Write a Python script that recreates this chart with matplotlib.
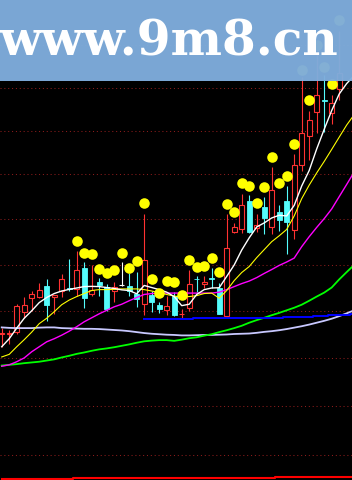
import matplotlib
matplotlib.use("Agg")
import matplotlib.pyplot as plt
from matplotlib.patches import Rectangle

# K-line data
opens = [10.502, 10.500, 10.511, 10.593, 10.655, 10.658, 10.707, 10.658, 10.684, 10.699,
         10.693, 10.783, 10.673, 10.726, 10.703, 10.684, 10.713, 10.707, 10.670, 10.630,
         10.667, 10.626, 10.603, 10.665, 10.585, 10.614, 10.739, 10.716, 10.740, 10.700,
         10.579, 10.943, 10.957, 11.082, 10.962, 11.056, 10.967, 11.033, 11.082, 10.951,
         11.244, 11.377, 11.488, 11.542, 11.482, 11.594]
highs = [10.528, 10.519, 10.630, 10.658, 10.683, 10.719, 10.735, 10.669, 10.757, 10.826,
         10.861, 10.809, 10.796, 10.740, 10.717, 10.726, 10.809, 10.761, 10.767, 11.024,
         10.687, 10.636, 10.665, 10.680, 10.609, 10.774, 10.752, 10.748, 10.783, 10.719,
         11.023, 10.984, 11.114, 11.109, 11.024, 11.100, 11.233, 11.064, 11.150, 11.291,
         11.650, 11.493, 11.760, 11.660, 11.567, 11.870]
lows = [10.447, 10.460, 10.502, 10.571, 10.600, 10.655, 10.557, 10.585, 10.658, 10.687,
        10.665, 10.610, 10.665, 10.665, 10.600, 10.636, 10.707, 10.665, 10.617, 10.581,
        10.593, 10.589, 10.583, 10.579, 10.570, 10.597, 10.680, 10.696, 10.696, 10.586,
        10.578, 10.940, 10.939, 10.940, 10.943, 10.936, 10.933, 10.948, 10.848, 10.912,
        11.218, 11.268, 11.388, 11.392, 11.431, 11.540]
closes = [10.506, 10.506, 10.622, 10.625, 10.673, 10.691, 10.623, 10.668, 10.735, 10.694,
          10.777, 10.653, 10.688, 10.713, 10.609, 10.701, 10.713, 10.683, 10.651, 10.820,
          10.636, 10.607, 10.622, 10.583, 10.587, 10.717, 10.737, 10.726, 10.737, 10.587,
          10.873, 10.967, 11.064, 10.943, 10.974, 11.006, 11.130, 10.994, 10.988, 11.244,
          11.390, 11.450, 11.566, 11.537, 11.529, 11.671]

# moving average lines (run two slots past the last visible candle)
ma5 = [10.447, 10.481, 10.526, 10.568, 10.600, 10.635, 10.657, 10.674, 10.685, 10.692,
       10.698, 10.704, 10.705, 10.704, 10.700, 10.696, 10.690, 10.687, 10.673, 10.709,
       10.700, 10.691, 10.680, 10.661, 10.622, 10.628, 10.670, 10.691, 10.698, 10.699,
       10.748, 10.798, 10.863, 10.917, 10.965, 10.983, 11.005, 11.017, 11.014, 11.061,
       11.148, 11.218, 11.316, 11.406, 11.493, 11.570, 11.619, 11.657]
ma10 = [10.404, 10.415, 10.447, 10.477, 10.509, 10.545, 10.568, 10.596, 10.626, 10.646,
        10.661, 10.674, 10.687, 10.691, 10.691, 10.692, 10.694, 10.694, 10.694, 10.691,
        10.685, 10.678, 10.670, 10.663, 10.659, 10.661, 10.665, 10.674, 10.676, 10.654,
        10.687, 10.730, 10.765, 10.791, 10.830, 10.865, 10.900, 10.926, 10.954, 11.014,
        11.091, 11.152, 11.207, 11.259, 11.314, 11.370, 11.426, 11.474]
ma20 = [10.365, 10.371, 10.384, 10.400, 10.426, 10.447, 10.468, 10.481, 10.496, 10.513,
        10.532, 10.553, 10.570, 10.587, 10.602, 10.617, 10.628, 10.643, 10.657, 10.670,
        10.674, 10.676, 10.676, 10.676, 10.676, 10.676, 10.676, 10.676, 10.676, 10.680,
        10.691, 10.704, 10.717, 10.728, 10.743, 10.761, 10.778, 10.796, 10.811, 10.828,
        10.878, 10.922, 10.963, 11.002, 11.045, 11.100, 11.155, 11.211]
ma60 = [10.368, 10.371, 10.374, 10.378, 10.381, 10.384, 10.389, 10.394, 10.402, 10.409,
        10.417, 10.423, 10.430, 10.436, 10.440, 10.445, 10.451, 10.457, 10.464, 10.470,
        10.473, 10.475, 10.475, 10.472, 10.477, 10.483, 10.487, 10.494, 10.500, 10.509,
        10.517, 10.526, 10.536, 10.549, 10.560, 10.570, 10.581, 10.591, 10.602, 10.613,
        10.626, 10.643, 10.661, 10.678, 10.700, 10.735, 10.767, 10.798]
ma120 = [10.529, 10.527, 10.526, 10.526, 10.526, 10.528, 10.529, 10.529, 10.526, 10.525,
         10.524, 10.523, 10.523, 10.522, 10.520, 10.518, 10.516, 10.513, 10.509, 10.505,
         10.502, 10.500, 10.498, 10.497, 10.495, 10.495, 10.496, 10.497, 10.497, 10.498,
         10.499, 10.501, 10.502, 10.503, 10.506, 10.510, 10.513, 10.517, 10.522, 10.528,
         10.534, 10.541, 10.549, 10.557, 10.566, 10.577, 10.589, 10.602]

# blue support line, starts at candle index 19
support_start = 19
support = [10.565] * 7 + [10.569] * 8 + [10.571] * 4 + [10.574] * 4 + \
          [10.579] * 2 + [10.583] * 2 + [10.584, 10.585]

# red line along the bottom edge
bottom_line = [9.902] * 10 + [9.906] * 27 + [9.910] * 11

# yellow signal dots
dot_idx = list(range(10, 46))
dot_vals = [10.904, 10.851, 10.847, 10.781, 10.762, 10.777, 10.849, 10.784, 10.816, 11.070,
            10.738, 10.677, 10.730, 10.723, 10.668, 10.820, 10.791, 10.793, 10.829, 10.767,
            11.067, 11.033, 11.160, 11.147, 11.071, 11.142, 11.279, 11.160, 11.192, 11.340,
            11.681, 11.543, 11.800, 11.695, 11.618, 11.922]

grid_levels = [10.0, 10.2, 10.4, 10.6, 10.8, 11.0, 11.2, 11.4, 11.6, 11.8]

RED = "#ff3232"
CYAN = "#54fcfc"

fig = plt.figure(figsize=(3.52, 4.8), dpi=100, facecolor="black")
ax = fig.add_axes([0, 0, 1, 1])
ax.set_facecolor("black")
ax.set_yscale("log")

for lvl in grid_levels:
    ax.axhline(lvl, color="#8c1c1c", lw=0.75, ls=(0, (1, 2.7)), zorder=1)

w = 0.68
for i, (o, h, l, c) in enumerate(zip(opens, highs, lows, closes)):
    top, bot = max(o, c), min(o, c)
    if c > o:
        ax.vlines(i, top, h, color=RED, lw=0.8, zorder=3)
        ax.vlines(i, l, bot, color=RED, lw=0.8, zorder=3)
        ax.add_patch(Rectangle((i - w / 2, bot), w, top - bot, facecolor="black",
                               edgecolor=RED, lw=0.8, zorder=3))
    elif c < o:
        ax.vlines(i, l, h, color=CYAN, lw=0.8, zorder=3)
        ax.add_patch(Rectangle((i - w / 2, bot), w, top - bot, facecolor=CYAN,
                               edgecolor=CYAN, lw=0.6, zorder=3))
    else:
        ax.vlines(i, l, h, color="white", lw=0.8, zorder=3)
        ax.hlines(c, i - w / 2, i + w / 2, color="white", lw=0.8, zorder=3)

xs = list(range(len(ma5)))
ax.plot(xs, ma120, color="#c8c8ff", lw=1.3, zorder=4)
ax.plot(xs, ma60, color="#00ff00", lw=1.3, zorder=4)
ax.plot(xs, ma20, color="#ff00ff", lw=1.0, zorder=4)
ax.plot(xs, ma10, color="#ffff00", lw=0.8, zorder=4)
ax.plot(xs, ma5, color="white", lw=1.0, zorder=4)
ax.plot(range(support_start, support_start + len(support)), support,
        color="#0000ff", lw=1.4, drawstyle="steps-mid", zorder=4)
ax.plot(range(len(bottom_line)), bottom_line, color="#ff0000", lw=1.5,
        drawstyle="steps-mid", zorder=4)

ax.plot(dot_idx, dot_vals, "o", color="#ffff00", ms=7.6, mew=0, zorder=5)

ax.set_xlim(-0.23, 46.71)
ax.set_ylim(9.8995, 12.018)
ax.axis("off")

# watermark banner (slightly see-through)
bh = 81 / 480
fig.patches.append(Rectangle((0, 1 - bh), 1, bh, transform=fig.transFigure,
                             facecolor="#7faddc", alpha=0.97, zorder=10))
fig.text(338 / 352, 1 - 55 / 480, "www.9m8.cn", color="white", fontsize=35,
         fontweight="bold", family="DejaVu Serif", ha="right", va="baseline", zorder=11)

fig.savefig("out.png", dpi=100, facecolor="black")
